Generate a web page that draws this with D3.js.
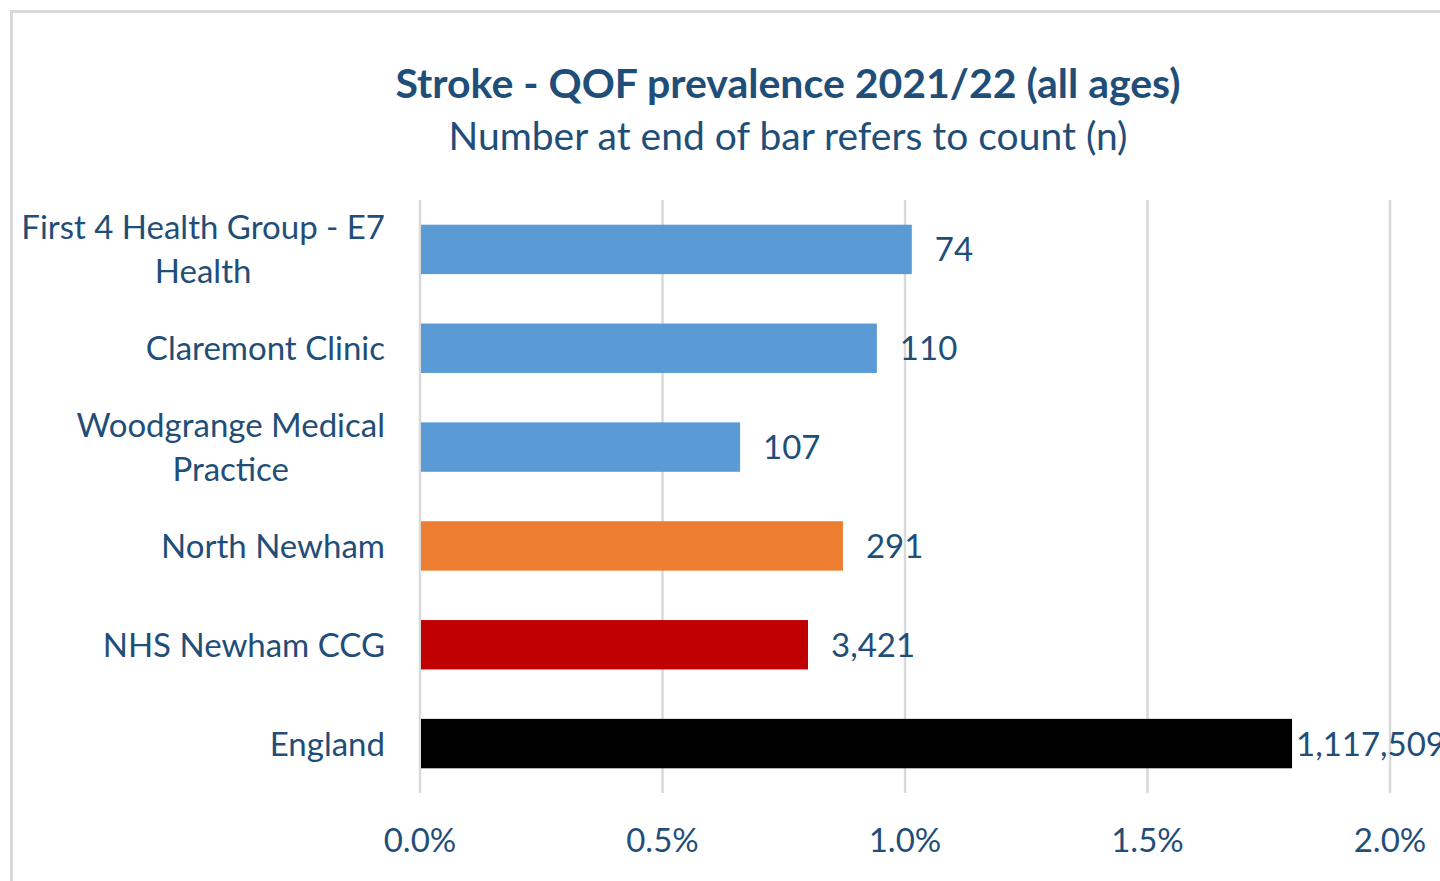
<!DOCTYPE html>
<html>
<head>
<meta charset="utf-8">
<script src="https://cdn.jsdelivr.net/npm/d3@7"></script>
<style>
body{margin:0;background:#fff;overflow:hidden;}
</style>
</head>
<body>
<div id="chart"></div>
<script>
// data
var categories = [
    ["First 4 Health Group - E7", "Health"],
    ["Claremont Clinic"],
    ["Woodgrange Medical", "Practice"],
    ["North Newham"],
    ["NHS Newham CCG"],
    ["England"]
]
var prevalence = [1.014, 0.942, 0.660, 0.872, 0.800, 1.798]
var counts = ["74", "110", "107", "291", "3,421", "1,117,509"]
var barColors = ["#5B9BD5", "#5B9BD5", "#5B9BD5", "#ED7D31", "#C00000", "#000000"]
var ticks = [0, 0.5, 1.0, 1.5, 2.0]

var width = 1440
var height = 881
var textColor = "#1F4E79"
var font = "Lato, 'Open Sans', sans-serif"

var svg = d3.select("#chart")
    .append("svg")
    .attr("width", width)
    .attr("height", height)

// chart frame
svg.append("rect")
    .attr("x", 11.5)
    .attr("y", 11.5)
    .attr("width", 1600)
    .attr("height", 1000)
    .attr("fill", "none")
    .attr("stroke", "#d9d9d9")
    .attr("stroke-width", 3)

// title
svg.append("text")
    .attr("x", 788)
    .attr("y", 98)
    .attr("text-anchor", "middle")
    .style("font-family", font)
    .style("font-weight", "bold")
    .style("font-size", "41px")
    .style("fill", textColor)
    .text("Stroke - QOF prevalence 2021/22 (all ages)")

svg.append("text")
    .attr("x", 788)
    .attr("y", 150)
    .attr("text-anchor", "middle")
    .style("font-family", font)
    .style("font-size", "39px")
    .style("fill", textColor)
    .text("Number at end of bar refers to count (n)")

var x = d3.scaleLinear()
    .domain([0, 2])
    .range([420, 1390])

var y = d3.scaleBand()
    .domain(d3.range(categories.length))
    .range([200, 793])
    .paddingInner(0.5)
    .paddingOuter(0.25)

// gridlines
svg.append("g")
    .selectAll("line")
    .data(ticks)
    .join("line")
    .attr("x1", d => x(d))
    .attr("x2", d => x(d))
    .attr("y1", 200)
    .attr("y2", 793)
    .attr("stroke", "#d9d9d9")
    .attr("stroke-width", 2.5)

// tick labels
svg.append("g")
    .selectAll("text")
    .data(ticks)
    .join("text")
    .attr("x", d => x(d))
    .attr("y", 852)
    .attr("text-anchor", "middle")
    .style("font-family", font)
    .style("font-size", "33px")
    .style("fill", textColor)
    .text(d => d3.format(".1f")(d) + "%")

// bars
svg.append("g")
    .selectAll("rect")
    .data(prevalence)
    .join("rect")
    .attr("x", x(0) + 1)
    .attr("y", (d, i) => y(i))
    .attr("width", d => x(d) - x(0) - 1)
    .attr("height", y.bandwidth())
    .attr("fill", (d, i) => barColors[i])

// value labels
svg.append("g")
    .selectAll("text")
    .data(prevalence)
    .join("text")
    .attr("x", d => d > 1.5 ? x(d) + 4 : x(d) + 23)
    .attr("y", (d, i) => y(i) + y.bandwidth() / 2 + 12)
    .style("font-family", font)
    .style("font-size", "33px")
    .style("fill", textColor)
    .text((d, i) => counts[i])

// category labels
var lineH = 44
var labels = svg.append("g")
    .selectAll("text")
    .data(categories)
    .join("text")
    .style("font-family", font)
    .style("font-size", "33px")
    .style("fill", textColor)
    .attr("text-anchor", "middle")

labels.each(function(lines, i) {
    var t = d3.select(this)
    var cy = y(i) + y.bandwidth() / 2
    var top = cy - (lines.length - 1) * lineH / 2 + 12
    lines.forEach(function(l, k) {
        t.append("tspan").attr("y", top + k * lineH).text(l)
    })
    // right align the block, center lines in it
    var maxW = 0
    t.selectAll("tspan").each(function() {
        maxW = Math.max(maxW, this.getComputedTextLength())
    })
    t.selectAll("tspan").attr("x", 385 - maxW / 2)
})
</script>
</body>
</html>
